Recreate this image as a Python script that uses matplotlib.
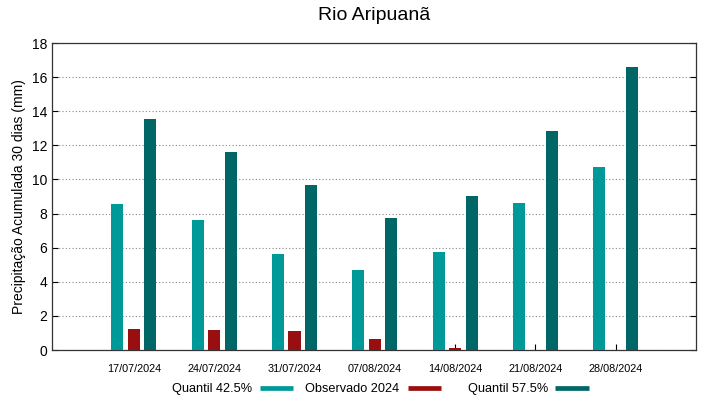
import matplotlib
matplotlib.use("Agg")
import matplotlib.pyplot as plt
import matplotlib.transforms as mtransforms
import numpy as np
from matplotlib.lines import Line2D

plt.rcParams['font.family'] = ['Liberation Sans', 'DejaVu Sans']

dates = ["17/07/2024", "24/07/2024", "31/07/2024", "07/08/2024", "14/08/2024", "21/08/2024", "28/08/2024"]
q425 = [8.55, 7.6, 5.6, 4.7, 5.75, 8.6, 10.75]
obs2024 = [1.25, 1.17, 1.11, 0.64, 0.1, 0.0, 0.0]
q575 = [13.55, 11.6, 9.66, 7.75, 9.02, 12.86, 16.6]
labels = ["Quantil 42.5%", "Observado 2024", "Quantil 57.5%"]

c_q425 = "#009999"
c_obs = "#990f0f"
c_q575 = "#006666"

W, H = 719, 399
fig = plt.figure(figsize=(W/100, H/100), dpi=100)
ax = fig.add_axes([52/W, 1-350/H, (696-52)/W, (350-43)/H])

x = np.arange(len(dates))
w = 0.15
off = 0.205
ax.bar(x - off, q425, width=w, color=c_q425, zorder=3)
ax.bar(x, obs2024, width=w, color=c_obs, zorder=3)
ax.bar(x + off, q575, width=w, color=c_q575, zorder=3)

ax.set_xlim(-1.02, 7.0)
ax.set_ylim(0, 18)
ax.set_yticks(np.arange(0, 19, 2))
ax.set_xticks(x)
ax.set_xticklabels(dates, fontsize=7.8)
shift = mtransforms.ScaledTranslation(5/100, 0, fig.dpi_scale_trans)
for lab in ax.get_xticklabels():
    lab.set_transform(lab.get_transform() + shift)
ax.tick_params(axis='y', labelsize=10, direction='in', right=True, length=4)
ax.tick_params(axis='x', direction='in', length=4, pad=10)
ax.yaxis.grid(True, linestyle=(0, (1, 2)), color='#888888', linewidth=0.8, zorder=0)
for s in ax.spines.values():
    s.set_linewidth(0.9)
    s.set_color('#333333')
ax.set_ylabel("Precipitação Acumulada 30 dias (mm)", fontsize=10)
fig.text(374/W, 1-15/H, "Rio Aripuanã", fontsize=14, ha='center', va='center')

# legend (gnuplot style: text then swatch)
ly_text = 1 - 392/H
ly = 1 - 387.5/H
text_x = [172, 305, 468]
sw_x = [(260, 293), (408, 441), (555, 589)]
colors = [c_q425, c_obs, c_q575]
for tx, (s0, s1), col, lab in zip(text_x, sw_x, colors, labels):
    fig.text(tx/W, ly_text, lab, fontsize=9.2, ha='left', va='baseline')
    fig.add_artist(Line2D([s0/W, s1/W], [ly, ly], color=col, lw=3.4,
                          solid_capstyle='butt', transform=fig.transFigure))

fig.savefig("out.png", dpi=100)
